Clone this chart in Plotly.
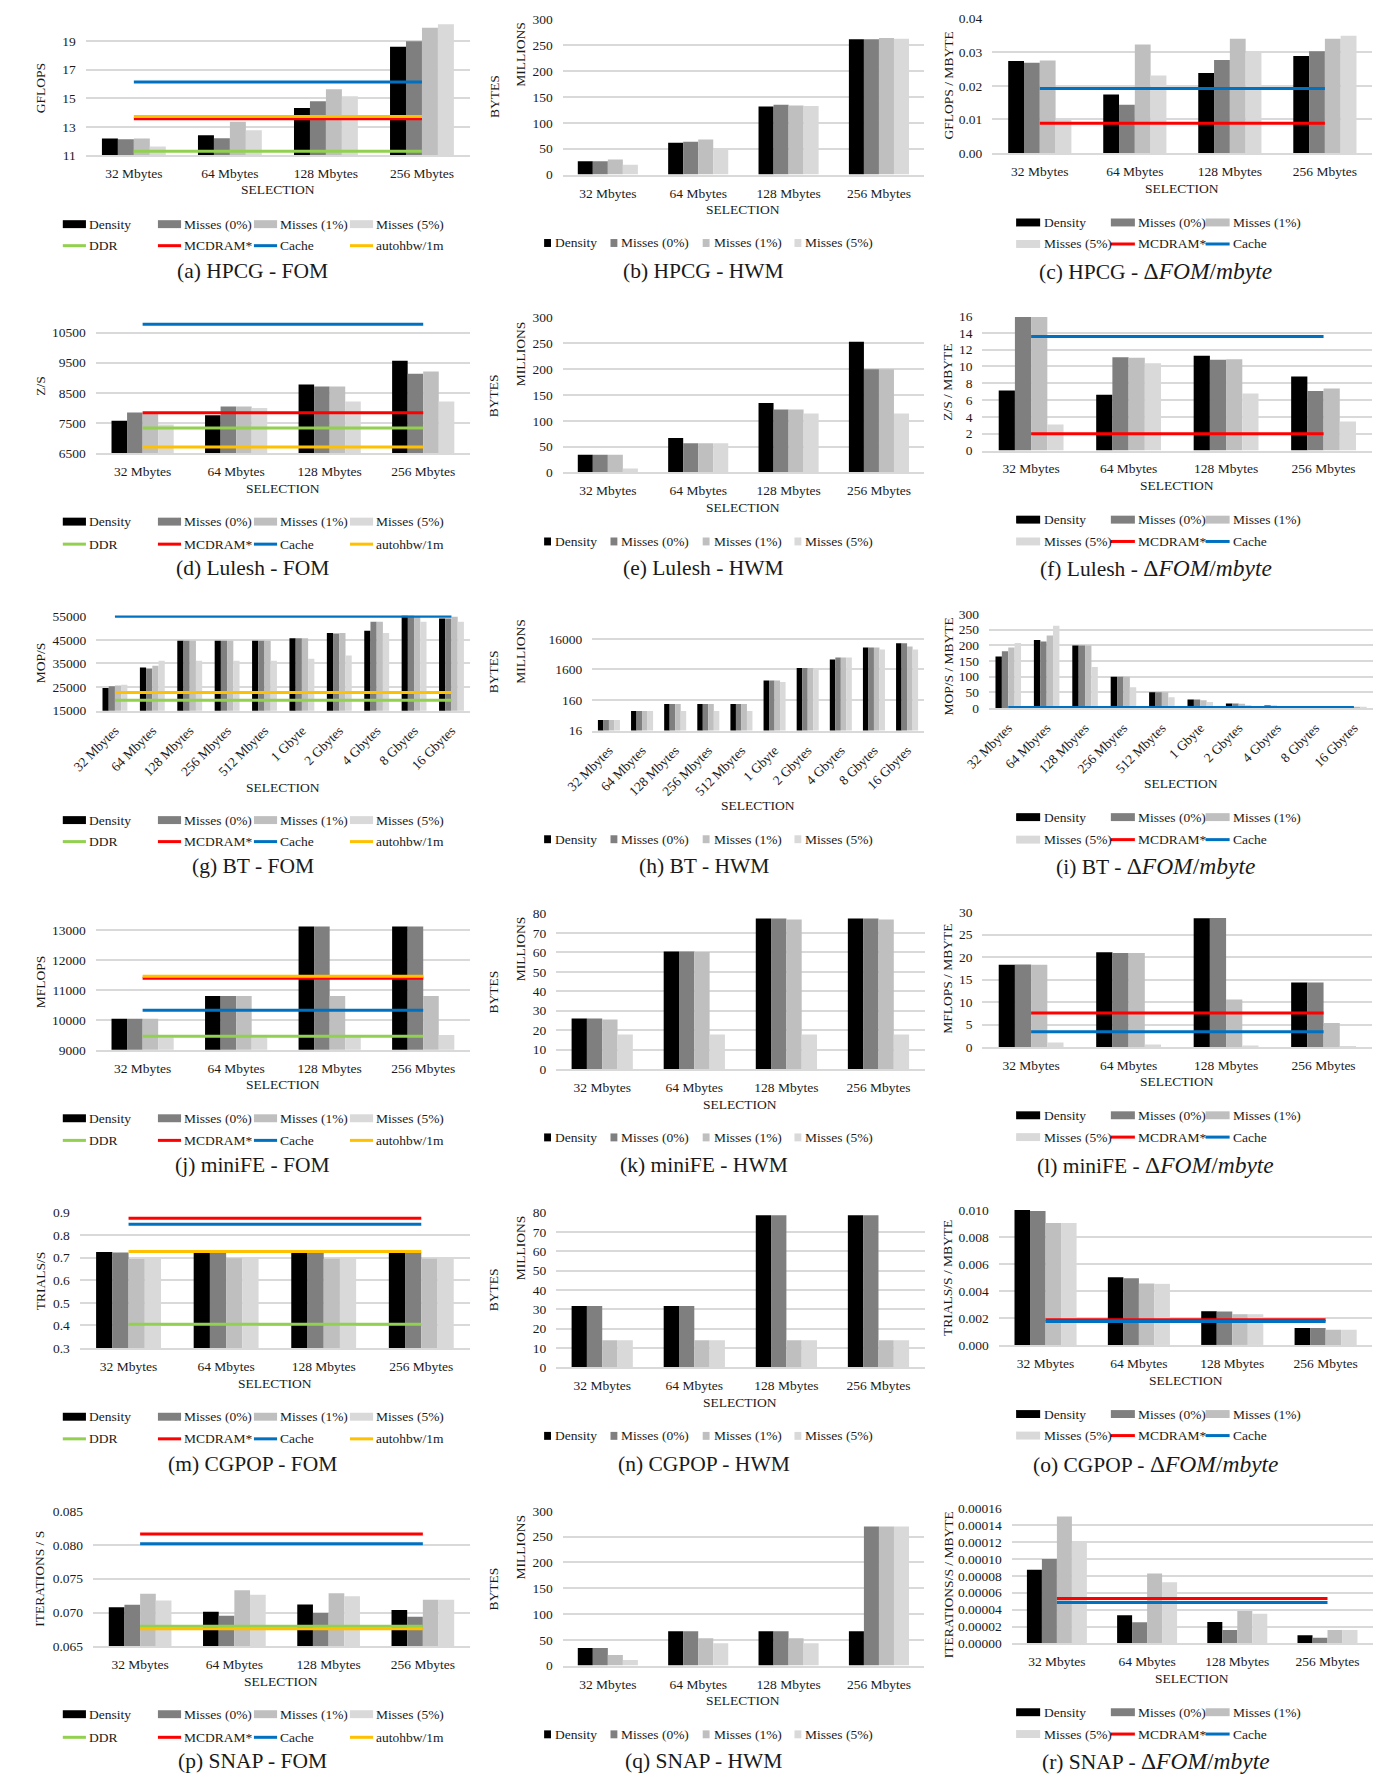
import math
import plotly.graph_objects as go

W, H = 1398, 1782
FONT = "Liberation Serif, Times New Roman, serif"
INK = "#1a1a1a"
GRID = "#d9d9d9"

# ---------------------------------------------------------------- categories
SIZES4 = ["32 Mbytes", "64 Mbytes", "128 Mbytes", "256 Mbytes"]
SIZES10 = SIZES4 + ["512 Mbytes", "1 Gbyte", "2 Gbytes", "4 Gbytes", "8 Gbytes", "16 Gbytes"]
SERIES = ["Density", "Misses (0%)", "Misses (1%)", "Misses (5%)"]
REFS_FOM = ["DDR", "MCDRAM*", "Cache", "autohbw/1m"]
REFS_DELTA = ["MCDRAM*", "Cache"]

# ---------------------------------------------------------------- HPCG
hpcg_fom_density = [12.18, 12.41, 14.31, 18.60]
hpcg_fom_miss0 = [12.13, 12.20, 14.79, 18.98]
hpcg_fom_miss1 = [12.18, 13.36, 15.62, 19.92]
hpcg_fom_miss5 = [11.62, 12.76, 15.14, 20.16]
hpcg_fom_refs = [11.30, 13.57, 16.13, 13.73]

hpcg_hwm_density = [25.6, 61.4, 131.8, 261.8]
hpcg_hwm_miss0 = [25.6, 63.4, 135.0, 261.8]
hpcg_hwm_miss1 = [29.4, 67.8, 133.8, 264.3]
hpcg_hwm_miss5 = [19.2, 50.6, 132.5, 263.0]

hpcg_delta_density = [0.0274, 0.0174, 0.0238, 0.0289]
hpcg_delta_miss0 = [0.0269, 0.0144, 0.0277, 0.0303]
hpcg_delta_miss1 = [0.0275, 0.0323, 0.0340, 0.0340]
hpcg_delta_miss5 = [0.0100, 0.0231, 0.0302, 0.0349]
hpcg_delta_refs = [0.0089, 0.0192]

# ---------------------------------------------------------------- Lulesh
lulesh_fom_density = [7575, 7761, 8781, 9570]
lulesh_fom_miss0 = [7849, 8046, 8715, 9132]
lulesh_fom_miss1 = [7816, 8046, 8715, 9208]
lulesh_fom_miss5 = [7454, 8002, 8211, 8211]
lulesh_fom_refs = [7333, 7838, 10776, 6708]

lulesh_hwm_density = [34.0, 66.7, 134.6, 253.2]
lulesh_hwm_miss0 = [34.0, 56.4, 121.8, 200.0]
lulesh_hwm_miss1 = [34.0, 56.4, 121.8, 200.0]
lulesh_hwm_miss5 = [7.7, 56.4, 114.0, 114.0]

lulesh_delta_density = [7.15, 6.64, 11.28, 8.80]
lulesh_delta_miss0 = [15.90, 11.10, 10.80, 7.07]
lulesh_delta_miss1 = [15.90, 11.05, 10.85, 7.39]
lulesh_delta_miss5 = [3.10, 10.40, 6.80, 3.46]
lulesh_delta_refs = [2.0, 13.56]

# ---------------------------------------------------------------- BT
bt_fom_density = [24640, 33310, 44630, 44630, 44630, 45610, 47840, 48820, 55300, 54000]
bt_fom_miss0 = [25340, 32890, 44630, 44630, 44630, 45610, 47700, 52600, 55300, 54000]
bt_fom_miss1 = [25620, 34010, 44630, 44630, 44630, 45610, 47840, 52600, 55000, 54700]
bt_fom_miss5 = [26040, 36100, 36100, 36100, 36100, 36940, 38340, 47840, 52600, 52600]
bt_fom_refs = [19470, None, 54970, 22690]

bt_hwm_density = [35.5, 69.7, 117.6, 117.6, 117.6, 691, 1782, 3410, 8360, 11560]
bt_hwm_miss0 = [35.5, 69.7, 117.6, 117.6, 117.6, 691, 1782, 3963, 8360, 11560]
bt_hwm_miss1 = [35.5, 69.7, 117.6, 117.6, 117.6, 691, 1782, 3963, 8360, 9010]
bt_hwm_miss5 = [35.5, 69.7, 69.7, 69.7, 69.7, 625, 1694, 3963, 7195, 7195]

bt_delta_density = [164, 217, 199, 100, 50.5, 27.4, 14.7, 8.4, 3.5, 2.0]
bt_delta_miss0 = [181, 212, 199, 100, 50.5, 27.4, 14.7, 7.4, 3.5, 2.0]
bt_delta_miss1 = [193, 231, 199, 100, 50.5, 25.0, 13.7, 6.3, 3.5, 2.0]
bt_delta_miss5 = [207, 262, 131, 66, 34.7, 19.0, 9.5, 5.3, 3.0, 1.7]
bt_delta_refs = [None, 2.1]

# ---------------------------------------------------------------- miniFE
minife_fom_density = [10036, 10796, 13111, 13111]
minife_fom_miss0 = [10036, 10796, 13111, 13111]
minife_fom_miss1 = [10036, 10796, 10796, 10796]
minife_fom_miss5 = [9408, 9408, 9496, 9496]
minife_fom_refs = [9452, 11391, 10322, 11457]

minife_hwm_density = [26.0, 60.5, 77.5, 77.5]
minife_hwm_miss0 = [26.0, 60.5, 77.5, 77.5]
minife_hwm_miss1 = [25.5, 60.2, 77.0, 77.0]
minife_hwm_miss5 = [17.7, 17.7, 17.7, 17.7]

minife_delta_density = [18.27, 21.05, 28.60, 14.38]
minife_delta_miss0 = [18.34, 20.90, 28.70, 14.38]
minife_delta_miss1 = [18.27, 20.90, 10.56, 5.36]
minife_delta_miss5 = [1.03, 0.59, 0.37, 0.15]
minife_delta_refs = [7.56, 3.45]

# ---------------------------------------------------------------- CGPOP
cgpop_fom_density = [0.7246, 0.7246, 0.7246, 0.7246]
cgpop_fom_miss0 = [0.723, 0.723, 0.723, 0.723]
cgpop_fom_miss1 = [0.694, 0.697, 0.695, 0.695]
cgpop_fom_miss5 = [0.697, 0.695, 0.695, 0.700]
cgpop_fom_refs = [0.405, 0.874, 0.8475, 0.7275]

cgpop_hwm_density = [31.7, 31.7, 78.6, 78.6]
cgpop_hwm_miss0 = [31.7, 31.7, 78.6, 78.6]
cgpop_hwm_miss1 = [14.0, 14.0, 14.0, 14.0]
cgpop_hwm_miss5 = [14.0, 14.0, 14.0, 14.0]

cgpop_delta_density = [0.0100, 0.00502, 0.00250, 0.00125]
cgpop_delta_miss0 = [0.00993, 0.00495, 0.00248, 0.00125]
cgpop_delta_miss1 = [0.00904, 0.00456, 0.00228, 0.00113]
cgpop_delta_miss5 = [0.00904, 0.00453, 0.00228, 0.00113]
cgpop_delta_refs = [0.00186, 0.00174]

# ---------------------------------------------------------------- SNAP
snap_fom_density = [0.07076, 0.07012, 0.07120, 0.07037]
snap_fom_miss0 = [0.07115, 0.06954, 0.06993, 0.06939]
snap_fom_miss1 = [0.07276, 0.07329, 0.07285, 0.07188]
snap_fom_miss5 = [0.07178, 0.07261, 0.07241, 0.07188]
snap_fom_refs = [0.06798, 0.08159, 0.08017, 0.06759]

snap_hwm_density = [34.0, 66.7, 66.7, 66.7]
snap_hwm_miss0 = [34.0, 66.7, 66.7, 269.9]
snap_hwm_miss1 = [20.5, 53.2, 53.2, 269.9]
snap_hwm_miss5 = [10.9, 43.6, 43.6, 269.9]

snap_delta_density = [8.72e-5, 3.33e-5, 2.54e-5, 9.8e-6]
snap_delta_miss0 = [1.00e-4, 2.50e-5, 1.60e-5, 6.65e-6]
snap_delta_miss1 = [1.502e-4, 8.29e-5, 3.83e-5, 1.60e-5]
snap_delta_miss5 = [1.197e-4, 7.24e-5, 3.52e-5, 1.60e-5]
snap_delta_refs = [5.32e-5, 4.85e-5]

# ---------------------------------------------------------------- styles
BAR_COLORS = {"Density": "#000000", "Misses (0%)": "#7f7f7f",
              "Misses (1%)": "#bfbfbf", "Misses (5%)": "#d9d9d9"}
REF_COLORS = {"DDR": "#92d050", "MCDRAM*": "#ff0000",
              "Cache": "#0070c0", "autohbw/1m": "#ffc000"}
SMALL = 13.5
CAPTION = 21.5
DELTA = "<span style='font-size:23.5px'>Δ<i>FOM</i>/<i>mbyte</i></span>"

# panel layout: plot box in pixels (left, right, top, bottom), axis ranges, labels
panels = [
    # ---- row 1
    dict(kind="fom", cats=SIZES4, caption="(a) HPCG - FOM", ytitle="GFLOPS",
         bars=[hpcg_fom_density, hpcg_fom_miss0, hpcg_fom_miss1, hpcg_fom_miss5], refs=hpcg_fom_refs,
         box=(60.0, 451.7, 15.5, 149.7), yr=[11, 20.3], tv=[11, 13, 15, 17, 19], fmt="d",
         ty=81.7, sel=184.3, leg=(219.0, 240.7), cap=266.7),
    dict(kind="hwm", cats=SIZES4, caption="(b) HPCG - HWM",
         bars=[hpcg_hwm_density, hpcg_hwm_miss0, hpcg_hwm_miss1, hpcg_hwm_miss5],
         box=(546.2, 914.8, 12.7, 169.0), yr=[0, 300], tv=[0, 50, 100, 150, 200, 250, 300], fmt="d",
         ty=90.0, my=48.0, sel=204.0, leg=(238.0,), cap=266.7),
    dict(kind="delta", cats=SIZES4, caption="(c) HPCG - " + DELTA, ytitle="GFLOPS / MBYTE",
         bars=[hpcg_delta_density, hpcg_delta_miss0, hpcg_delta_miss1, hpcg_delta_miss5], refs=hpcg_delta_refs,
         box=(984.3, 1371.9, 11.7, 147.3), yr=[0, 0.04], tv=[0, 0.01, 0.02, 0.03, 0.04], fmt=".2f",
         ty=79.0, sel=182.7, leg=(217.3, 239.0), cap=266.7),
    # ---- row 2
    dict(kind="fom", cats=SIZES4, caption="(d) Lulesh - FOM", ytitle="Z/S",
         bars=[lulesh_fom_density, lulesh_fom_miss0, lulesh_fom_miss1, lulesh_fom_miss5], refs=lulesh_fom_refs,
         box=(70.2, 451.7, 316.2, 450.0), yr=[6500, 10900], tv=[6500, 7500, 8500, 9500, 10500], fmt="d",
         ty=381.7, sel=485.7, leg=(519.0, 541.7), cap=566.0),
    dict(kind="hwm", cats=SIZES4, caption="(e) Lulesh - HWM",
         bars=[lulesh_hwm_density, lulesh_hwm_miss0, lulesh_hwm_miss1, lulesh_hwm_miss5],
         box=(546.2, 914.8, 313.3, 469.3), yr=[0, 300], tv=[0, 50, 100, 150, 200, 250, 300], fmt="d",
         ty=391.7, my=350.0, sel=505.0, leg=(539.0,), cap=566.0),
    dict(kind="delta", cats=SIZES4, caption="(f) Lulesh - " + DELTA, ytitle="Z/S / MBYTE",
         bars=[lulesh_delta_density, lulesh_delta_miss0, lulesh_delta_miss1, lulesh_delta_miss5], refs=lulesh_delta_refs,
         box=(974.2, 1371.8, 311.7, 447.3), yr=[0, 16], tv=[0, 2, 4, 6, 8, 10, 12, 14, 16], fmt="d",
         ty=379.0, sel=482.7, leg=(517.0, 539.0), cap=566.0),
    # ---- row 3
    dict(kind="fom", cats=SIZES10, caption="(g) BT - FOM", ytitle="MOP/S", angle=-45,
         bars=[bt_fom_density, bt_fom_miss0, bt_fom_miss1, bt_fom_miss5], refs=bt_fom_refs,
         box=(70.6, 451.9, 613.6, 709.7), yr=[15000, 55300], tv=[15000, 25000, 35000, 45000, 55000], fmt="d",
         ty=661.7, sel=786.7, leg=(820.0, 841.7), cap=866.7),
    dict(kind="hwm", cats=SIZES10, caption="(h) BT - HWM", angle=-45, log=True,
         bars=[bt_hwm_density, bt_hwm_miss0, bt_hwm_miss1, bt_hwm_miss5],
         box=(576.5, 914.3, 636.1, 729.7), yr=[16, 17500], tv=[16, 160, 1600, 16000], fmt="d",
         ty=670.0, my=650.0, sel=805.7, leg=(839.3,), cap=866.7),
    dict(kind="delta", cats=SIZES10, caption="(i) BT - " + DELTA, ytitle="MOP/S / MBYTE", angle=-45,
         bars=[bt_delta_density, bt_delta_miss0, bt_delta_miss1, bt_delta_miss5], refs=bt_delta_refs,
         box=(981.0, 1372.6, 612.0, 707.0), yr=[0, 300], tv=[0, 50, 100, 150, 200, 250, 300], fmt="d",
         ty=665.0, sel=783.3, leg=(817.0, 839.7), cap=866.7),
    # ---- row 4
    dict(kind="fom", cats=SIZES4, caption="(j) miniFE - FOM", ytitle="MFLOPS",
         bars=[minife_fom_density, minife_fom_miss0, minife_fom_miss1, minife_fom_miss5], refs=minife_fom_refs,
         box=(70.2, 451.7, 924.7, 1051.7), yr=[9000, 13200], tv=[9000, 10000, 11000, 12000, 13000], fmt="d",
         ty=983.3, sel=1086.7, leg=(1120.7, 1143.0), cap=1168.3),
    dict(kind="hwm", cats=SIZES4, caption="(k) miniFE - HWM",
         bars=[minife_hwm_density, minife_hwm_miss0, minife_hwm_miss1, minife_hwm_miss5],
         box=(539.6, 915.2, 914.3, 1071.0), yr=[0, 80], tv=[0, 10, 20, 30, 40, 50, 60, 70, 80], fmt="d",
         ty=993.0, my=950.0, sel=1106.7, leg=(1140.0,), cap=1168.3),
    dict(kind="delta", cats=SIZES4, caption="(l) miniFE - " + DELTA, ytitle="MFLOPS / MBYTE",
         bars=[minife_delta_density, minife_delta_miss0, minife_delta_miss1, minife_delta_miss5], refs=minife_delta_refs,
         box=(974.2, 1371.8, 912.7, 1049.0), yr=[0, 30], tv=[0, 5, 10, 15, 20, 25, 30], fmt="d",
         ty=980.0, sel=1083.3, leg=(1117.7, 1139.7), cap=1168.3),
    # ---- row 5
    dict(kind="fom", cats=SIZES4, caption="(m) CGPOP - FOM", ytitle="TRIALS/S",
         bars=[cgpop_fom_density, cgpop_fom_miss0, cgpop_fom_miss1, cgpop_fom_miss5], refs=cgpop_fom_refs,
         box=(53.8, 451.8, 1215.7, 1352.3), yr=[0.3, 0.9], tv=[0.3, 0.4, 0.5, 0.6, 0.7, 0.8, 0.9], fmt=".1f",
         ty=1285.0, sel=1388.0, leg=(1421.7, 1444.0), cap=1469.3),
    dict(kind="hwm", cats=SIZES4, caption="(n) CGPOP - HWM",
         bars=[cgpop_hwm_density, cgpop_hwm_miss0, cgpop_hwm_miss1, cgpop_hwm_miss5],
         box=(539.6, 915.2, 1215.7, 1372.0), yr=[0, 80], tv=[0, 10, 20, 30, 40, 50, 60, 70, 80], fmt="d",
         ty=1293.3, my=1251.7, sel=1407.0, leg=(1441.0,), cap=1469.3),
    dict(kind="delta", cats=SIZES4, caption="(o) CGPOP - " + DELTA, ytitle="TRIALS/S / MBYTE",
         bars=[cgpop_delta_density, cgpop_delta_miss0, cgpop_delta_miss1, cgpop_delta_miss5], refs=cgpop_delta_refs,
         box=(991.0, 1371.8, 1213.3, 1349.3), yr=[0, 0.010], tv=[0, 0.002, 0.004, 0.006, 0.008, 0.010], fmt=".3f",
         ty=1281.7, sel=1384.7, leg=(1419.0, 1440.7), cap=1469.3),
    # ---- row 6
    dict(kind="fom", cats=SIZES4, caption="(p) SNAP - FOM", ytitle="ITERATIONS / S",
         bars=[snap_fom_density, snap_fom_miss0, snap_fom_miss1, snap_fom_miss5], refs=snap_fom_refs,
         box=(67.3, 451.7, 1516.7, 1653.3), yr=[0.065, 0.085], tv=[0.065, 0.070, 0.075, 0.080, 0.085], fmt=".3f",
         ty=1585.0, sel=1688.7, leg=(1721.7, 1745.0), cap=1769.3),
    dict(kind="hwm", cats=SIZES4, caption="(q) SNAP - HWM",
         bars=[snap_hwm_density, snap_hwm_miss0, snap_hwm_miss1, snap_hwm_miss5],
         box=(546.2, 914.8, 1516.7, 1672.7), yr=[0, 300], tv=[0, 50, 100, 150, 200, 250, 300], fmt="d",
         ty=1595.0, my=1553.3, sel=1708.0, leg=(1742.0,), cap=1769.3),
    dict(kind="delta", cats=SIZES4, caption="(r) SNAP - " + DELTA, ytitle="ITERATIONS/S / MBYTE",
         bars=[snap_delta_density, snap_delta_miss0, snap_delta_miss1, snap_delta_miss5], refs=snap_delta_refs,
         box=(1004.2, 1372.1, 1514.0, 1650.3), yr=[0, 0.00016],
         tv=[0, 0.00002, 0.00004, 0.00006, 0.00008, 0.00010, 0.00012, 0.00014, 0.00016], fmt=".5f",
         ty=1591.7, sel=1685.3, leg=(1719.7, 1741.7), cap=1769.3),
]

CAPTION_X = {"fom": 230.0, "hwm": 690.0, "delta": 1151.0}

fig = go.Figure()
shapes = []
annotations = []


def fx(x):
    return x / W


def fy(y):
    return 1 - y / H


def label(x, y, s, size=SMALL, anchor="left", angle=0):
    annotations.append(dict(x=fx(x), y=fy(y), xref="paper", yref="paper", text=s,
                            showarrow=False, xanchor=anchor, yanchor="middle",
                            textangle=angle, font=dict(family=FONT, size=size, color=INK)))


def key_rect(x0, yc, w, h, color):
    shapes.append(dict(type="rect", xref="paper", yref="paper", x0=fx(x0), x1=fx(x0 + w),
                       y0=fy(yc + h / 2), y1=fy(yc - h / 2), fillcolor=color, line_width=0))


def key_line(x0, yc, w, color):
    shapes.append(dict(type="line", xref="paper", yref="paper", x0=fx(x0), x1=fx(x0 + w),
                       y0=fy(yc), y1=fy(yc), line=dict(color=color, width=3)))


tick_font = dict(family=FONT, size=SMALL, color=INK)

for i, p in enumerate(panels, start=1):
    xa = "x" if i == 1 else f"x{i}"
    ya = "y" if i == 1 else f"y{i}"
    cats = p["cats"]
    for name, vals in zip(SERIES, p["bars"]):
        fig.add_trace(go.Bar(x=cats, y=vals, name=name, xaxis=xa, yaxis=ya, showlegend=False,
                             marker=dict(color=BAR_COLORS[name], line_width=0)))
    if p["kind"] != "hwm":
        names = REFS_FOM if p["kind"] == "fom" else REFS_DELTA
        for name, v in zip(names, p["refs"]):
            if v is None:
                continue
            fig.add_trace(go.Scatter(x=[cats[0], cats[-1]], y=[v, v], mode="lines", name=name,
                                     xaxis=xa, yaxis=ya, showlegend=False,
                                     line=dict(color=REF_COLORS[name], width=3)))

    left, right, top, bottom = p["box"]
    xkey = "xaxis" if i == 1 else f"xaxis{i}"
    ykey = "yaxis" if i == 1 else f"yaxis{i}"
    fig.layout[xkey] = dict(domain=[fx(left), fx(right)], anchor=ya, type="category",
                            range=[-0.5, len(cats) - 0.5], showgrid=False, zeroline=False,
                            showline=True, linecolor=GRID, linewidth=1.5, ticks="",
                            tickfont=tick_font, tickangle=p.get("angle", 0),
                            ticklabelstandoff=5, fixedrange=True)
    yaxis = dict(domain=[fy(bottom), fy(top)], anchor=xa, tickvals=p["tv"], tickformat=p["fmt"],
                 showgrid=True, gridcolor=GRID, gridwidth=1.5, zeroline=False, showline=False,
                 ticks="", tickfont=tick_font, ticklabelstandoff=9, fixedrange=True)
    if p.get("log"):
        yaxis.update(type="log", range=[math.log10(p["yr"][0]), math.log10(p["yr"][1])])
    else:
        yaxis.update(range=p["yr"])
    fig.layout[ykey] = yaxis

    # axis titles and caption
    label((left + right) / 2, p["sel"], "SELECTION", anchor="center")
    label(CAPTION_X[p["kind"]], p["cap"], p["caption"], size=CAPTION, anchor="center")
    if p["kind"] == "fom":
        label(13.4, p["ty"], p["ytitle"], anchor="center", angle=-90)
    elif p["kind"] == "delta":
        label(939.2, p["ty"], p["ytitle"], anchor="center", angle=-90)
    else:
        label(476.0, p["ty"], "BYTES", anchor="center", angle=-90)
        label(502.9, p["my"], "MILLIONS", anchor="center", angle=-90)

    # legend drawn under each panel
    if p["kind"] == "fom":
        r1, r2 = p["leg"]
        cols = [36.5, 133.5, 231.4, 329.3]
        for cx, name in zip(cols, SERIES):
            key_rect(cx, r1, 23.6, 8, BAR_COLORS[name])
            label(cx + 25, r1, name)
        for cx, name in zip(cols, REFS_FOM):
            key_line(cx, r2, 23.6, REF_COLORS[name])
            label(cx + 25, r2, name)
    elif p["kind"] == "delta":
        r1, r2 = p["leg"]
        cols = [1008.6, 1105.2, 1201.8]
        for cx, name in zip(cols, SERIES[:3]):
            key_rect(cx, r1, 24.5, 8, BAR_COLORS[name])
            label(cx + 26, r1, name)
        key_rect(cols[0], r2, 24.5, 8, BAR_COLORS[SERIES[3]])
        label(cols[0] + 26, r2, SERIES[3])
        for cx, name in zip(cols[1:], REFS_DELTA):
            key_line(cx, r2, 24.5, REF_COLORS[name])
            label(cx + 26, r2, name)
    else:
        (r1,) = p["leg"]
        cols = [527.3, 595.0, 689.0, 782.6]
        for cx, name in zip(cols, SERIES):
            key_rect(cx, r1, 7, 8, BAR_COLORS[name])
            label(cx + 9, r1, name)

fig.update_layout(
    width=W, height=H, margin=dict(l=0, r=0, t=0, b=0),
    paper_bgcolor="white", plot_bgcolor="white",
    barmode="group", bargap=0.335, bargroupgap=0,
    showlegend=False, shapes=shapes, annotations=annotations,
    font=dict(family=FONT, size=SMALL, color=INK),
)

fig.write_html("out.html")
